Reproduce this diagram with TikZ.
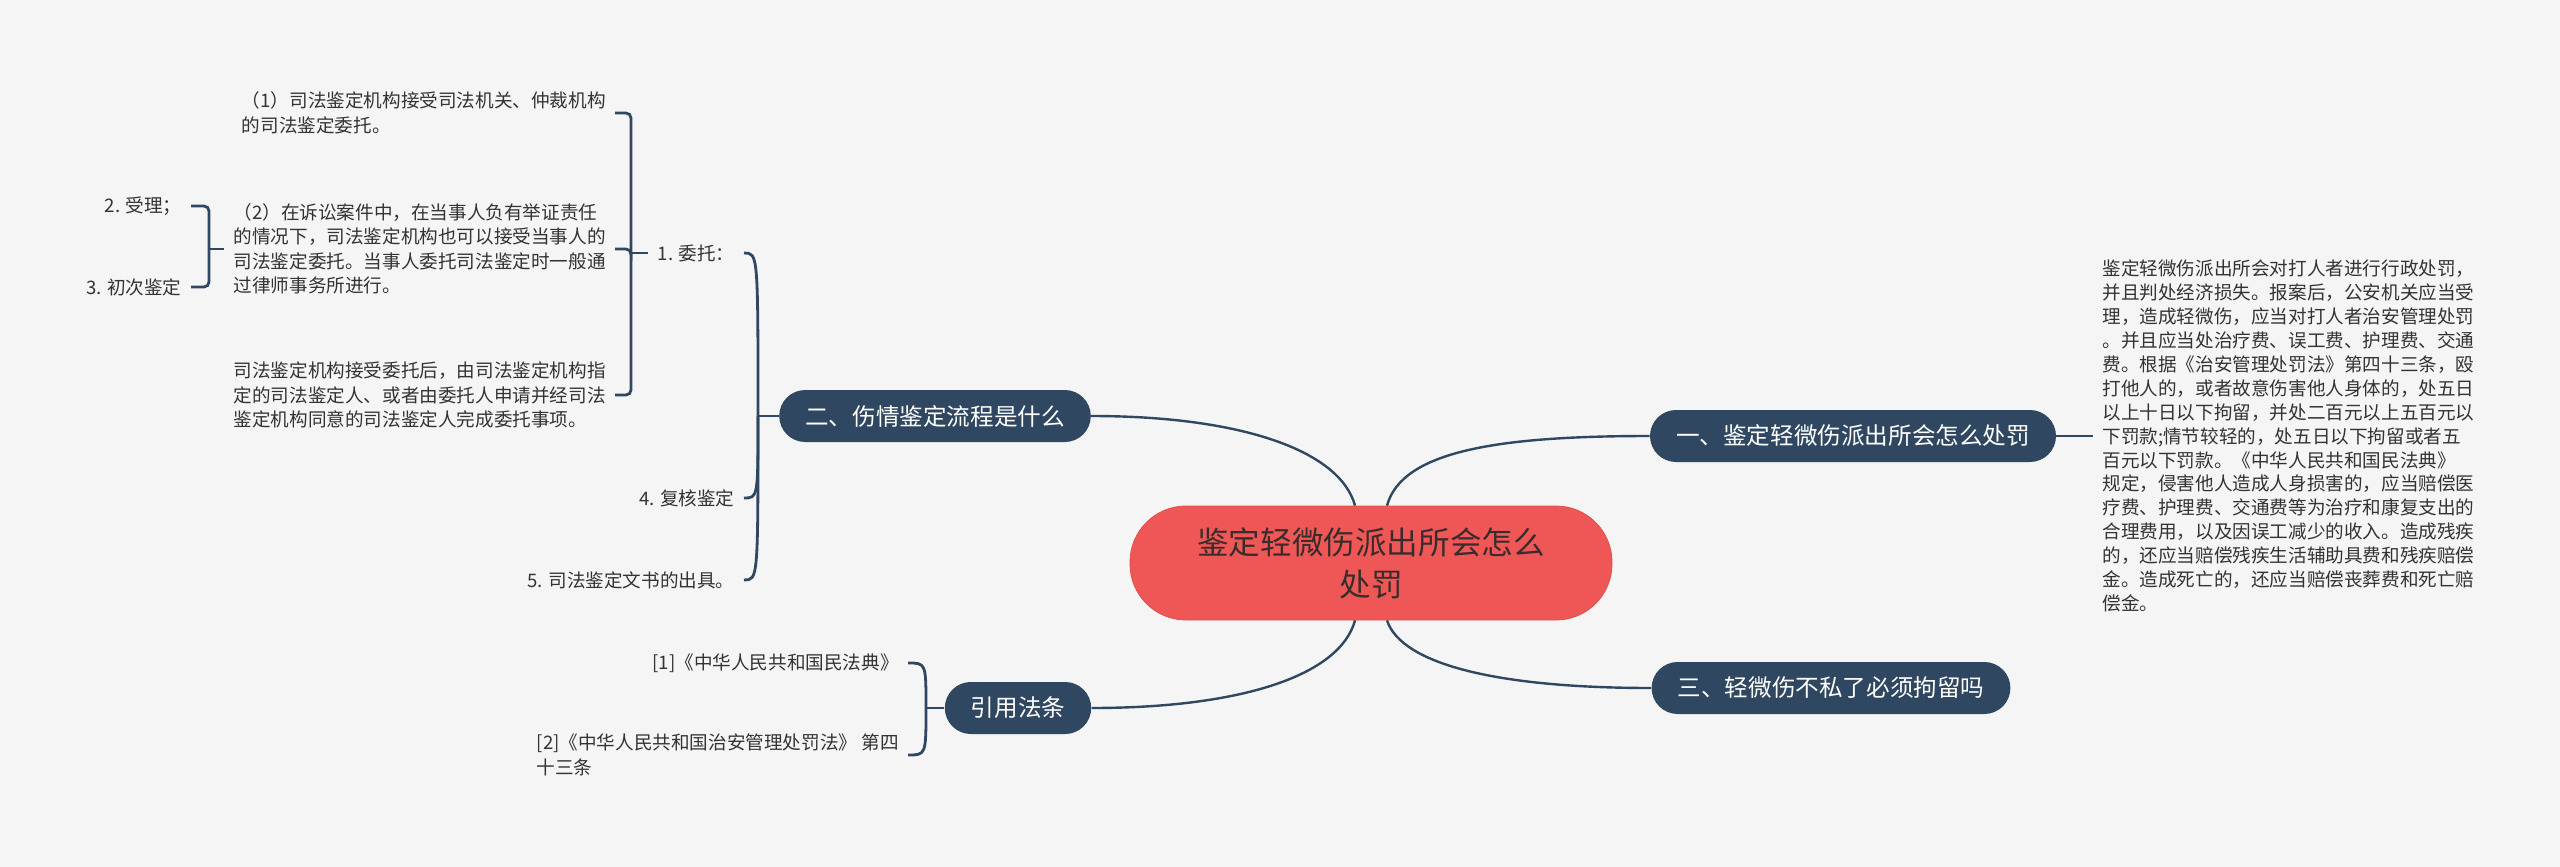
\documentclass[tikz,border=0pt]{standalone}
\usepackage{fontspec}
\setmainfont{Noto Sans CJK SC}

\definecolor{bgcol}{HTML}{F5F5F5}
\definecolor{navy}{HTML}{2F4760}
\definecolor{rootred}{HTML}{EF5756}
\definecolor{rootink}{HTML}{3A2C2C}
\definecolor{leafink}{HTML}{333333}

\tikzset{
  root/.style={fill=rootred, draw=rootred!92!black, line width=0.4pt,
    rounded corners=28pt, minimum width=241pt, minimum height=57pt,
    align=center, text=rootink, font=\fontsize{15.8pt}{21pt}\selectfont},
  branch/.style={fill=navy, text=white, rounded corners=13pt,
    minimum height=26pt, inner xsep=13pt, font=\fontsize{11.8pt}{14pt}\selectfont},
  leaf/.style={text=leafink, inner xsep=4.5pt, inner ysep=1pt, align=left,
    font=\fontsize{9.3pt}{12.2pt}\selectfont},
  note/.style={leaf, font=\fontsize{9.3pt}{11.95pt}\selectfont},
  link/.style={draw=navy, line width=1.2pt},
  brace/.style={draw=navy, line width=1.4pt, rounded corners=2.5pt},
}

\begin{document}
\begin{tikzpicture}[x=0.5pt, y=0.5pt]
  \fill[bgcol] (0,0) rectangle (2560,-867);
  \useasboundingbox (0,0) rectangle (2560,-867);

  % centre and main branches
  \node[root] (root) at (1371,-563) {鉴定轻微伤派出所会怎么\\处罚};
  \node[branch] (b1) at (1853,-436) {一、鉴定轻微伤派出所会怎么处罚};
  \node[branch] (b2) at (935,-416) {二、伤情鉴定流程是什么};
  \node[branch] (b3) at (1831,-688) {三、轻微伤不私了必须拘留吗};
  \node[branch] (b4) at (1018,-708) {引用法条};

  \draw[link] ([xshift=8pt]root.north) .. controls +(15,55) and +(-150,0) .. (b1.west);
  \draw[link] ([xshift=-8pt]root.north) .. controls +(-15,55) and +(150,0) .. (b2.east);
  \draw[link] ([xshift=8pt]root.south) .. controls +(15,-45) and +(-150,0) .. (b3.west);
  \draw[link] ([xshift=-8pt]root.south) .. controls +(-15,-55) and +(150,0) .. (b4.east);

  % branch one
  \node[note, anchor=west] (p1) at (2093,-436) {鉴定轻微伤派出所会对打人者进行行政处罚，\\
    并且判处经济损失。报案后，公安机关应当受\\
    理，造成轻微伤，应当对打人者治安管理处罚\\
    。并且应当处治疗费、误工费、护理费、交通\\
    费。根据《治安管理处罚法》第四十三条，殴\\
    打他人的，或者故意伤害他人身体的，处五日\\
    以上十日以下拘留，并处二百元以上五百元以\\
    下罚款;情节较轻的，处五日以下拘留或者五\\
    百元以下罚款。《中华人民共和国民法典》\\
    规定，侵害他人造成人身损害的，应当赔偿医\\
    疗费、护理费、交通费等为治疗和康复支出的\\
    合理费用，以及因误工减少的收入。造成残疾\\
    的，还应当赔偿残疾生活辅助具费和残疾赔偿\\
    金。造成死亡的，还应当赔偿丧葬费和死亡赔\\
    偿金。};
  \draw[link] (b1.east) -- (p1.west);

  % branch two
  \node[leaf, anchor=east] (w1) at (744,-253) {1. 委托：};
  \node[leaf, anchor=east] (w4) at (744,-498) {4. 复核鉴定};
  \node[leaf, anchor=east] (w5) at (744,-580) {5. 司法鉴定文书的出具。};
  \coordinate (s3) at (758,-416);
  \draw[brace] (s3) .. controls (s3 |- w1.east) and (s3 |- w1.east) .. (w1.east);
  \draw[brace] (s3) .. controls (s3 |- w4.east) and (s3 |- w4.east) .. (w4.east);
  \draw[brace] (s3) .. controls (s3 |- w5.east) and (s3 |- w5.east) .. (w5.east);
  \draw[brace] (s3) -- (b2.west);

  \node[leaf, anchor=east] (c1) at (615,-113) {（1）司法鉴定机构接受司法机关、仲裁机构\\的司法鉴定委托。};
  \node[leaf, anchor=east] (c2) at (615,-249) {（2）在诉讼案件中，在当事人负有举证责任\\
    的情况下，司法鉴定机构也可以接受当事人的\\
    司法鉴定委托。当事人委托司法鉴定时一般通\\
    过律师事务所进行。};
  \node[leaf, anchor=east] (c3) at (615,-395) {司法鉴定机构接受委托后，由司法鉴定机构指\\
    定的司法鉴定人、或者由委托人申请并经司法\\
    鉴定机构同意的司法鉴定人完成委托事项。};
  \coordinate (s1) at (631,-253);
  \draw[brace] (c1.east) -| (s1);
  \draw[brace] (c2.east) -| (s1);
  \draw[brace] (c3.east) -| (s1);
  \draw[brace] (s1) -- (w1.west);

  \node[leaf, anchor=east] (k2) at (191,-206) {2. 受理；};
  \node[leaf, anchor=east] (k3) at (191,-287) {3. 初次鉴定};
  \coordinate (s2) at (209,-249);
  \draw[brace] (k2.east) -| (s2);
  \draw[brace] (k3.east) -| (s2);
  \draw[brace] (s2) -- (c2.west);

  % cited laws
  \node[leaf, anchor=east] (r1) at (908,-663) {[1]《中华人民共和国民法典》};
  \node[leaf, anchor=east] (r2) at (908,-755) {[2]《中华人民共和国治安管理处罚法》 第四\\十三条};
  \coordinate (s4) at (926,-708);
  \draw[brace] (s4) .. controls (s4 |- r1.east) and (s4 |- r1.east) .. (r1.east);
  \draw[brace] (s4) .. controls (s4 |- r2.east) and (s4 |- r2.east) .. (r2.east);
  \draw[brace] (s4) -- (b4.west);
\end{tikzpicture}
\end{document}
